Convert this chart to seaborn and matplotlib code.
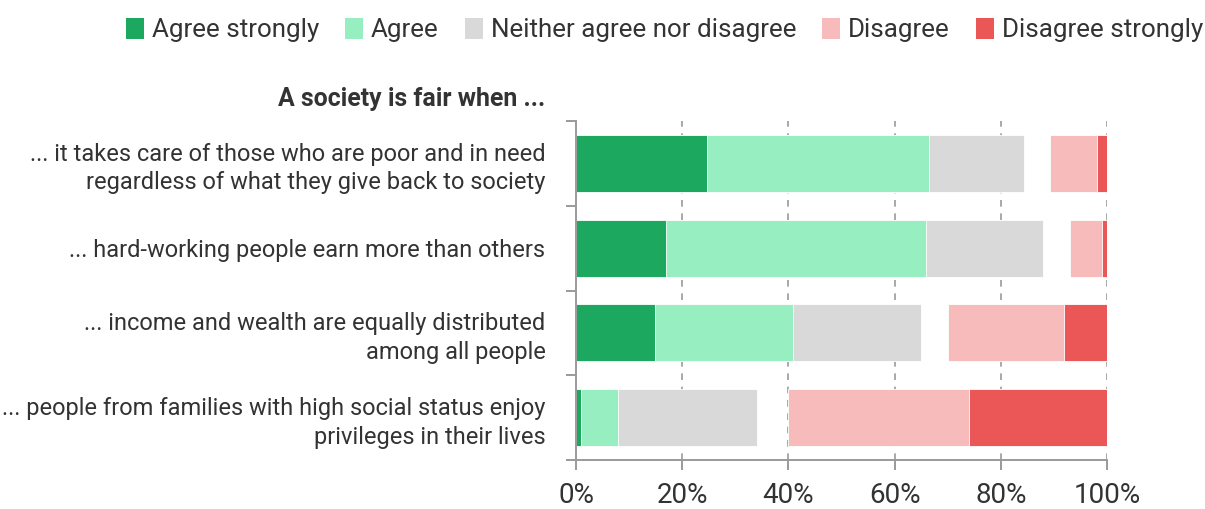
import matplotlib
matplotlib.use("Agg")
import matplotlib.pyplot as plt
from matplotlib.patches import Patch
import seaborn as sns
import pandas as pd
import numpy as np

# ---------------- data ----------------
statements = [
    "... it takes care of those who are poor and in need\nregardless of what they give back to society",
    "... hard-working people earn more than others",
    "... income and wealth are equally distributed\namong all people",
    "... people from families with high social status enjoy\nprivileges in their lives",
]
agree_strongly = [24.7, 16.9, 14.9, 0.9]
agree = [41.7, 49.1, 26.0, 7.1]
neither = [17.9, 22.0, 24.1, 26.0]
disagree = [8.9, 6.1, 21.9, 34.0]
disagree_strongly = [1.9, 0.9, 8.1, 26.0]
categories = ["Agree strongly", "Agree", "Neither agree nor disagree",
              "Disagree", "Disagree strongly"]
title = "A society is fair when ..."
xtick_values = [0, 20, 40, 60, 80, 100]
xtick_labels = ["0%", "20%", "40%", "60%", "80%", "100%"]

colors = ["#1CA85E", "#96EEC1", "#D9D9D9", "#F7BBBB", "#EB5757"]
text_color = "#333333"
axis_color = "#9a9a9a"

# ---------------- style ----------------
sns.set_style("white")
plt.rcParams["font.family"] = ["Roboto", "DejaVu Sans"]

df = pd.DataFrame({
    "statement": statements,
    "as": agree_strongly,
    "a": agree,
    "n": neither,
    "d": disagree,
    "ds": disagree_strongly,
})
df["cum_a"] = df["as"] + df["a"]
df["cum_n"] = df["cum_a"] + df["n"]
df["right_d"] = df["d"] + df["ds"]

W, H = 1205, 509
fig = plt.figure(figsize=(W / 100, H / 100), dpi=100)
ax = fig.add_axes([576 / W, 1 - 460 / H, (1107 - 576) / W, (460 - 121) / H])

bar_h = 0.67
edge = dict(edgecolor="white", linewidth=0.6)

# agree side (stacked from 0) via cumulative overlays
for col, c in [("cum_n", colors[2]), ("cum_a", colors[1]), ("as", colors[0])]:
    sns.barplot(data=df, x=col, y="statement", orient="h", color=c,
                width=bar_h, ax=ax, saturation=1, zorder=2, **edge)

# disagree side (stacked from 100 leftwards)
pos = np.arange(len(statements))
ax.barh(pos, df["right_d"], left=100 - df["right_d"], height=bar_h,
        color=colors[3], zorder=2, **edge)
ax.barh(pos, df["ds"], left=100 - df["ds"], height=bar_h,
        color=colors[4], zorder=2, **edge)

# axes
ax.set_xlim(0, 100)
ax.set_ylim(len(statements) - 0.5, -0.5)
ax.set_xlabel("")
ax.set_ylabel("")
ax.set_xticks(xtick_values)
ax.set_xticklabels(xtick_labels, fontsize=20, color=text_color)
ax.set_yticks(pos)
ax.set_yticklabels(statements, fontsize=17, color=text_color,
                   linespacing=1.3, ha="right", multialignment="right")
ax.set_yticks(np.arange(-0.5, len(statements)), minor=True)
ax.tick_params(axis="y", which="major", length=0, pad=22)
ax.tick_params(axis="y", which="minor", length=7, width=1.4, color=axis_color, direction="out", left=True)
ax.tick_params(axis="x", which="major", length=7, width=1.4, color=axis_color, direction="out", pad=9, bottom=True)

for v in xtick_values[1:]:
    ax.axvline(v, color=axis_color, linewidth=1.2, linestyle=(0, (4, 4)), zorder=1)

for s in ["top", "right"]:
    ax.spines[s].set_visible(False)
for s in ["left", "bottom"]:
    ax.spines[s].set_color(axis_color)
    ax.spines[s].set_linewidth(1.4)
    ax.spines[s].set_zorder(3)

# title
fig.text(545 / W, 1 - 99 / H, title, ha="right", va="center",
         fontsize=17.9, fontweight="bold", color=text_color)

# legend
handles = [Patch(facecolor=c, edgecolor="none") for c in colors]
fig.legend(handles, categories, loc="center right",
           bbox_to_anchor=(1 - 2 / W, 1 - 30 / H), ncol=5, frameon=False,
           fontsize=18.7, handlelength=0.7, handleheight=0.85,
           handletextpad=0.3, columnspacing=1.0, borderaxespad=0,
           labelcolor=text_color, borderpad=0)

fig.savefig("out.png", dpi=100)
